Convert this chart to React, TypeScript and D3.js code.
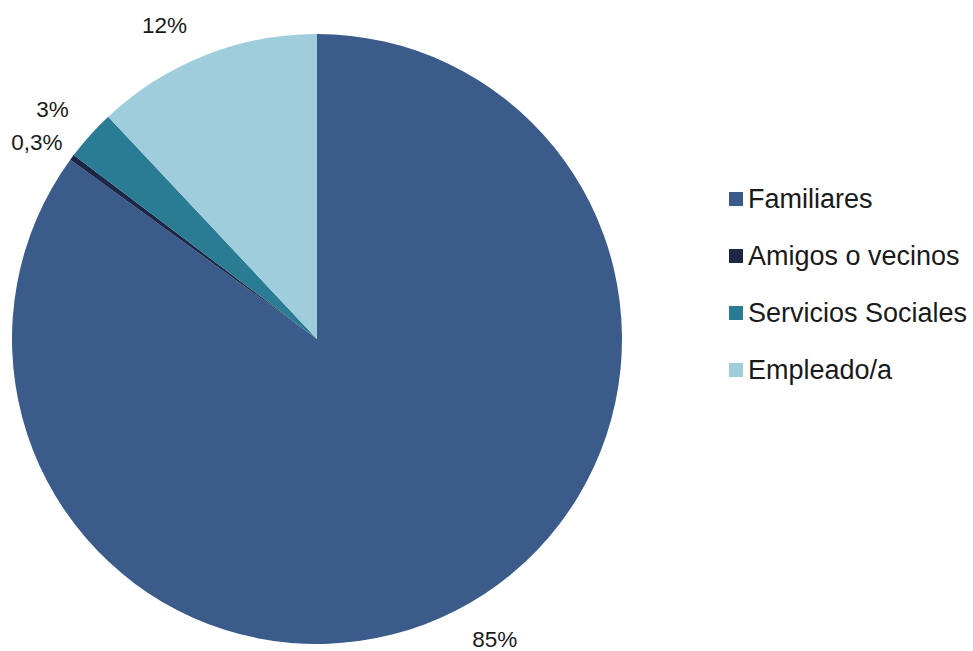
import React from "react";
import * as d3 from "d3";

const categories = ["Familiares", "Amigos o vecinos", "Servicios Sociales", "Empleado/a"];
const values = [85.0, 0.3, 2.7, 12.0];
const labels = ["85%", "0,3%", "3%", "12%"];
const colors = ["#3B5B8B", "#1B2745", "#2A7C95", "#A0CDDB"];
// label nudges (layout only)
const labelNudges: [number, number][] = [[28, 6], [-15, 0], [-19, -9], [-31, -7]];

const W = 973, H = 651;
const cx = 317, cy = 339, r = 305;

export default function App() {
  const pie = d3.pie<number>().sort(null).startAngle(0).endAngle(2 * Math.PI);
  const arcs = pie(values);
  const arc = d3.arc<d3.PieArcDatum<number>>().innerRadius(0).outerRadius(r);
  const labelArc = d3.arc<d3.PieArcDatum<number>>().innerRadius(330).outerRadius(330);
  const legendY = d3.scalePoint<string>().domain(categories).range([199, 370]);
  return (
    <svg width={W} height={H} style={{ position: "absolute", left: 0, top: 0, fontFamily: "'Liberation Sans', Arial, sans-serif" }}>
      <rect width={W} height={H} fill="#fff" />
      <g transform={`translate(${cx},${cy})`}>
        {arcs.map((a, i) => (
          <path key={i} d={arc(a) || ""} fill={colors[i]} />
        ))}
        {arcs.map((a, i) => {
          const [x, y] = labelArc.centroid(a);
          return (
            <text key={i} x={x + labelNudges[i][0]} y={y + labelNudges[i][1]} textAnchor="middle" dominantBaseline="central" fontSize={22.5} fill="#1a1a1a">
              {labels[i]}
            </text>
          );
        })}
      </g>
      {categories.map((c, i) => (
        <g key={c} transform={`translate(729,${legendY(c)})`}>
          <rect x={0} y={-7} width={14} height={14} fill={colors[i]} />
          <text x={19} y={0} dominantBaseline="central" fontSize={27} fill="#1a1a1a">{c}</text>
        </g>
      ))}
    </svg>
  );
}
